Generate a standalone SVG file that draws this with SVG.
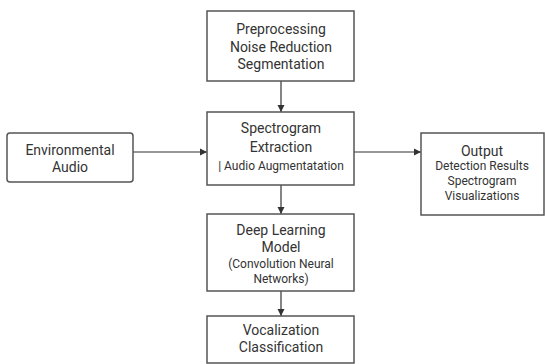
<svg xmlns="http://www.w3.org/2000/svg" width="545" height="364" viewBox="0 0 545 364">
<defs>
<marker id="arr" markerWidth="8" markerHeight="8" refX="7" refY="4" orient="auto" markerUnits="userSpaceOnUse">
<path d="M0,0.5 L7,4 L0,7.5 Z" fill="#333"/>
</marker>
<style>
.box{fill:#fff;stroke:#555;stroke-width:1.5}
.t{font-family:Roboto,"Liberation Sans",sans-serif;fill:#333;text-anchor:middle}
.l{font-size:14px}
.s{font-size:12px}
.c{stroke:#333;stroke-width:1.2;fill:none;marker-end:url(#arr)}
</style>
</defs>
<rect width="545" height="364" fill="#fff"/>
<g id="connectors">
<line class="c" x1="281" y1="81" x2="281" y2="112"/>
<line class="c" x1="133" y1="152" x2="207" y2="152"/>
<line class="c" x1="354" y1="152" x2="421" y2="152"/>
<line class="c" x1="281" y1="185" x2="281" y2="214"/>
<line class="c" x1="281" y1="291" x2="281" y2="316"/>
</g>
<g id="preprocessing">
<rect class="box" x="207" y="11" width="147" height="70"/>
<text class="t l" x="281" y="34">Preprocessing</text>
<text class="t l" x="281" y="52">Noise Reduction</text>
<text class="t l" x="281" y="69">Segmentation</text>
</g>
<g id="spectrogram">
<rect class="box" x="207" y="112" width="147" height="73"/>
<text class="t l" x="281" y="133">Spectrogram</text>
<text class="t l" x="281" y="152">Extraction</text>
<text class="t s" x="281" y="170">| Audio Augmentatation</text>
</g>
<g id="environmental">
<rect class="box" x="7" y="133" width="126" height="49" rx="3"/>
<text class="t l" x="70" y="155">Environmental</text>
<text class="t l" x="70" y="172">Audio</text>
</g>
<g id="output">
<rect class="box" x="421" y="133" width="123" height="82"/>
<text class="t l" x="482" y="156">Output</text>
<text class="t s" x="482" y="170">Detection Results</text>
<text class="t s" x="482" y="185">Spectrogram</text>
<text class="t s" x="482" y="200">Visualizations</text>
</g>
<g id="deeplearning">
<rect class="box" x="207" y="214" width="147" height="77"/>
<text class="t l" x="281" y="235">Deep Learning</text>
<text class="t l" x="281" y="252">Model</text>
<text class="t s" x="281" y="268">(Convolution Neural</text>
<text class="t s" x="281" y="283">Networks)</text>
</g>
<g id="vocalization">
<rect class="box" x="207" y="316" width="147" height="47"/>
<text class="t l" x="281" y="335">Vocalization</text>
<text class="t l" x="281" y="352">Classification</text>
</g>
</svg>
